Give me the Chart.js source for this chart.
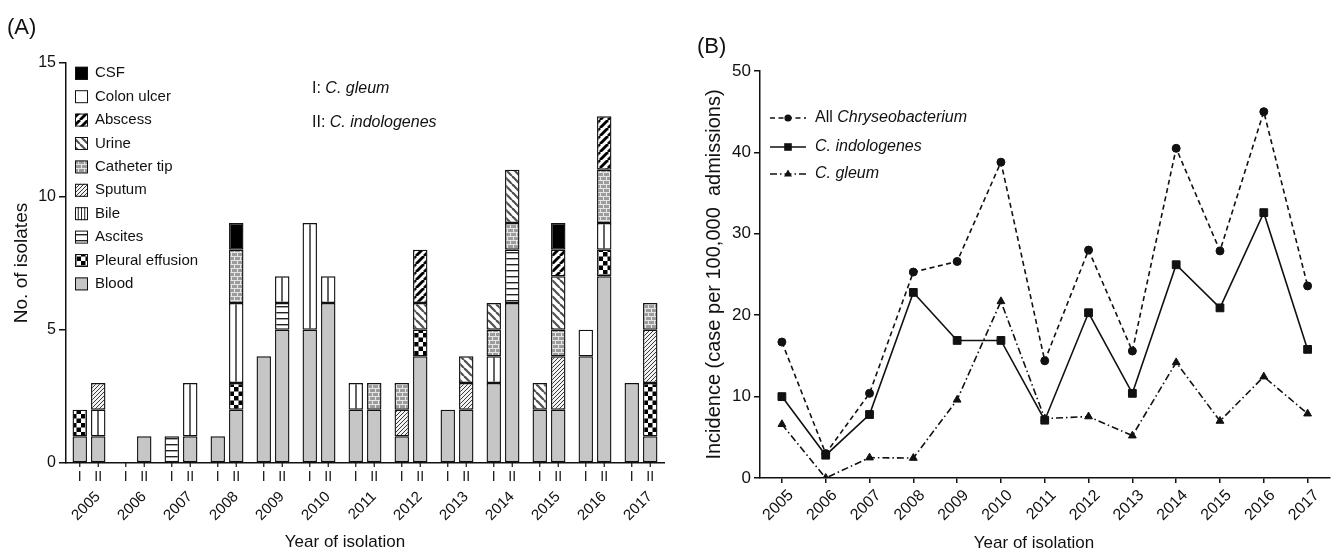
<!DOCTYPE html>
<html>
<head>
<meta charset="utf-8">
<script src="https://cdn.jsdelivr.net/npm/chart.js@4.4.1/dist/chart.umd.min.js"></script>
<style>
    html, body { margin: 0; padding: 0; background: #fff; }
    #wrap { position: relative; width: 1336px; height: 553px; overflow: hidden; }
    #leftBox { position: absolute; left: 0; top: 0; width: 680px; height: 553px; }
    #rightBox { position: absolute; left: 680px; top: 0; width: 656px; height: 553px; }
</style>
</head>
<body>
<div id="wrap">
    <div id="leftBox"><canvas id="isolatesChart" width="680" height="553"></canvas></div>
    <div id="rightBox"><canvas id="incidenceChart" width="656" height="553"></canvas></div>
</div>
<script>
const years = ['2005', '2006', '2007', '2008', '2009', '2010', '2011', '2012', '2013', '2014', '2015', '2016', '2017'];
const speciesMarks = ['I', 'II'];
const sources = ['Blood', 'Pleural effusion', 'Ascites', 'Bile', 'Sputum', 'Catheter tip', 'Urine', 'Abscess', 'Colon ulcer', 'CSF'];
const isolateTicks = [0, 5, 10, 15];
const incidenceTicks = [0, 10, 20, 30, 40, 50];

// (A) C. gleum isolates per year, by specimen
const gleumBlood    = [1, 0, 0, 1, 4, 5, 2, 1, 2, 3, 2, 4, 3];
const gleumPleural  = [1, 0, 0, 0, 0, 0, 0, 0, 0, 0, 0, 0, 0];
const gleumAscites  = [0, 0, 1, 0, 0, 0, 0, 0, 0, 0, 0, 0, 0];
const gleumBile     = [0, 0, 0, 0, 0, 4, 1, 0, 0, 1, 0, 0, 0];
const gleumSputum   = [0, 0, 0, 0, 0, 0, 0, 1, 0, 0, 0, 0, 0];
const gleumCatheter = [0, 0, 0, 0, 0, 0, 0, 1, 0, 1, 0, 0, 0];
const gleumUrine    = [0, 0, 0, 0, 0, 0, 0, 0, 0, 1, 1, 0, 0];
const gleumAbscess  = [0, 0, 0, 0, 0, 0, 0, 0, 0, 0, 0, 0, 0];
const gleumColon    = [0, 0, 0, 0, 0, 0, 0, 0, 0, 0, 0, 1, 0];
const gleumCSF      = [0, 0, 0, 0, 0, 0, 0, 0, 0, 0, 0, 0, 0];

// (A) C. indologenes isolates per year, by specimen
const indolBlood    = [1, 1, 1, 2, 5, 6, 2, 4, 2, 6, 2, 7, 1];
const indolPleural  = [0, 0, 0, 1, 0, 0, 0, 1, 0, 0, 0, 1, 2];
const indolAscites  = [0, 0, 0, 0, 1, 0, 0, 0, 0, 2, 0, 0, 0];
const indolBile     = [1, 0, 2, 3, 1, 1, 0, 0, 0, 0, 0, 1, 0];
const indolSputum   = [1, 0, 0, 0, 0, 0, 0, 0, 1, 0, 2, 0, 2];
const indolCatheter = [0, 0, 0, 2, 0, 0, 1, 0, 0, 1, 1, 2, 1];
const indolUrine    = [0, 0, 0, 0, 0, 0, 0, 1, 1, 2, 2, 0, 0];
const indolAbscess  = [0, 0, 0, 0, 0, 0, 0, 2, 0, 0, 1, 2, 0];
const indolColon    = [0, 0, 0, 0, 0, 0, 0, 0, 0, 0, 0, 0, 0];
const indolCSF      = [0, 0, 0, 1, 0, 0, 0, 0, 0, 0, 1, 0, 0];

// (B) incidence per 100,000 admissions
const allChryseo  = [16.7, 3.0, 10.4, 25.3, 26.6, 38.8, 14.4, 28.0, 15.6, 40.5, 27.9, 45.0, 23.6];
const indologenes = [10.0, 2.8, 7.8, 22.8, 16.9, 16.9, 7.1, 20.3, 10.4, 26.2, 20.9, 32.6, 15.8];
const gleum       = [6.6, 0.0, 2.5, 2.45, 9.6, 21.7, 7.3, 7.55, 5.2, 14.2, 7.0, 12.45, 7.9];

const INK = '#111';
const FONT = '"Liberation Sans", Arial, Helvetica, sans-serif';
const CAT_PCT = 0.804;
const BAR_PCT = 0.78;

Chart.defaults.font.family = FONT;
Chart.defaults.color = INK;

// --- fill patterns ---
function makeTile(w, h, draw) {
    const c = document.createElement('canvas');
    c.width = w;
    c.height = h;
    draw(c.getContext('2d'), w, h);
    return c;
}

function stripes(size, dir, width, color, bg) {
    return makeTile(size, size, (g, s) => {
        g.fillStyle = bg;
        g.fillRect(0, 0, s, s);
        g.strokeStyle = color;
        g.lineWidth = width;
        [-s, 0, s].forEach(k => {
            g.beginPath();
            if (dir === '/') { g.moveTo(k, s); g.lineTo(k + s, 0); }
            else { g.moveTo(k, 0); g.lineTo(k + s, s); }
            g.stroke();
        });
    });
}

const checkerTile = makeTile(9, 9, (g) => {
    g.fillStyle = '#fff'; g.fillRect(0, 0, 9, 9);
    g.fillStyle = '#000'; g.fillRect(0, 0, 4.5, 4.5); g.fillRect(4.5, 4.5, 4.5, 4.5);
});
const ascitesTile = makeTile(8, 6, (g) => {
    g.fillStyle = '#fff'; g.fillRect(0, 0, 8, 6);
    g.fillStyle = '#222'; g.fillRect(0, 0, 8, 1.4);
});
const bileTile = makeTile(60, 4, (g) => {
    g.fillStyle = '#fff'; g.fillRect(0, 0, 60, 4);
    g.fillStyle = '#222'; g.fillRect(29.3, 0, 1.4, 4);
});
const brickTile = makeTile(12, 8, (g) => {
    g.fillStyle = '#9c9c9c'; g.fillRect(0, 0, 12, 8);
    g.fillStyle = '#e6e6e6';
    g.fillRect(0, 0, 12, 1); g.fillRect(0, 4, 12, 1);
    g.fillRect(0, 0, 1, 4); g.fillRect(6, 0, 1, 4);
    g.fillRect(3, 4, 1, 4); g.fillRect(9, 4, 1, 4);
});
const sputumTile = stripes(4, '/', 1, '#3a3a3a', '#f2f2f2');
const urineTile = stripes(8, '\\', 2.2, '#505050', '#fff');
const abscessTile = stripes(8, '/', 2.8, '#000', '#fff');

function buildFills(ctx) {
    return [
        '#c6c6c6',
        ctx.createPattern(checkerTile, 'repeat'),
        ctx.createPattern(ascitesTile, 'repeat'),
        '#fff',
        ctx.createPattern(sputumTile, 'repeat'),
        ctx.createPattern(brickTile, 'repeat'),
        ctx.createPattern(urineTile, 'repeat'),
        ctx.createPattern(abscessTile, 'repeat'),
        '#fff',
        '#000'
    ];
}

// centre of the I / II bar in year j, from the category scale
function barCenter(chart, j, s) {
    const xs = chart.scales.x;
    const step = xs.getPixelForValue(1) - xs.getPixelForValue(0);
    return xs.getPixelForValue(j) + (s === 0 ? -1 : 1) * step * CAT_PCT / 4;
}

function bileFill(c, s) {
    const chart = c.chart;
    if (!chart.scales || !chart.scales.x || c.dataIndex === undefined) return '#fff';
    const cx = barCenter(chart, c.dataIndex, s);
    const p = chart.ctx.createPattern(bileTile, 'repeat');
    p.setTransform(new DOMMatrix([1, 0, 0, 1, Math.round(cx) - 30, 0]));
    return p;
}

function drawMixed(ctx, parts, x, y, size) {
    let cx = x;
    parts.forEach(([text, italic]) => {
        ctx.font = `${italic ? 'italic ' : ''}${size}px ${FONT}`;
        ctx.fillText(text, cx, y);
        cx += ctx.measureText(text).width;
    });
}

// --- (A) stacked bars ---
const leftCanvas = document.getElementById('isolatesChart');
const fills = buildFills(leftCanvas.getContext('2d'));
const gleumSets = [gleumBlood, gleumPleural, gleumAscites, gleumBile, gleumSputum, gleumCatheter, gleumUrine, gleumAbscess, gleumColon, gleumCSF];
const indolSets = [indolBlood, indolPleural, indolAscites, indolBile, indolSputum, indolCatheter, indolUrine, indolAbscess, indolColon, indolCSF];

const barSets = [];
[gleumSets, indolSets].forEach((sets, s) => {
    sets.forEach((vals, k) => {
        barSets.push({
            label: sources[k] + ' ' + speciesMarks[s],
            data: vals.map(v => v || null),
            stack: speciesMarks[s],
            backgroundColor: sources[k] === 'Bile' ? (c) => bileFill(c, s) : fills[k],
            borderColor: INK,
            borderWidth: 1.4,
            borderSkipped: false,
            categoryPercentage: CAT_PCT,
            barPercentage: BAR_PCT
        });
    });
});

const isolatesDecor = {
    id: 'isolatesDecor',
    afterDraw(chart) {
        const ctx = chart.ctx;
        const bottom = chart.chartArea.bottom;
        ctx.save();
        ctx.strokeStyle = INK;
        ctx.fillStyle = INK;
        ctx.lineWidth = 1.2;
        ctx.font = `14px ${FONT}`;
        ctx.textAlign = 'center';
        ctx.textBaseline = 'middle';
        years.forEach((y, j) => {
            speciesMarks.forEach((mark, s) => {
                const cx = barCenter(chart, j, s);
                ctx.beginPath();
                ctx.moveTo(cx, bottom);
                ctx.lineTo(cx, bottom + 4);
                ctx.stroke();
                ctx.fillText(mark, cx, bottom + 14.5);
            });
        });

        // legend, CSF on top
        ctx.textAlign = 'left';
        ctx.font = `15px ${FONT}`;
        for (let i = 0; i < sources.length; i++) {
            const k = sources.length - 1 - i;
            const ry = 73.3 + i * 23.4;
            ctx.fillStyle = fills[k];
            ctx.fillRect(75, ry - 6.5, 13, 13);
            if (sources[k] === 'Bile') {
                ctx.fillStyle = '#222';
                [3.25, 6.5, 9.75].forEach(dx => ctx.fillRect(75 + dx - 0.5, ry - 6.5, 1, 13));
            }
            ctx.lineWidth = 1;
            ctx.strokeStyle = INK;
            ctx.strokeRect(75.5, ry - 6, 12, 12);
            ctx.fillStyle = INK;
            ctx.fillText(sources[k], 95, ry);
        }

        drawMixed(ctx, [['I: ', false], ['C. gleum', true]], 312, 89, 16);
        drawMixed(ctx, [['II: ', false], ['C. indologenes', true]], 312, 123, 16);

        ctx.font = `22px ${FONT}`;
        ctx.fillText('(A)', 7, 28);

        ctx.textAlign = 'center';
        ctx.font = `17px ${FONT}`;
        ctx.fillText('Year of isolation', 345, 542);
        ctx.restore();
    }
};

new Chart(leftCanvas, {
    type: 'bar',
    data: { labels: years, datasets: barSets },
    options: {
        responsive: false,
        animation: false,
        events: [],
        layout: { padding: { left: 0, right: 16, top: 63, bottom: 0 } },
        plugins: { legend: { display: false }, tooltip: { enabled: false } },
        scales: {
            x: {
                stacked: true,
                grid: { display: false, drawTicks: false },
                border: { display: true, color: INK, width: 1.5 },
                ticks: { autoSkip: false, minRotation: 45, maxRotation: 45, font: { size: 15 }, color: INK, padding: 25, labelOffset: 9 },
                afterFit: s => { s.height = 90; s.paddingLeft = 0; s.paddingRight = 0; }
            },
            y: {
                stacked: true,
                min: 0,
                max: 15,
                afterBuildTicks: s => { s.ticks = isolateTicks.map(v => ({ value: v })); },
                ticks: { font: { size: 16 }, color: INK, padding: 3 },
                grid: { display: true, drawOnChartArea: false, drawTicks: true, tickLength: 7, color: INK, lineWidth: 1.5 },
                border: { display: true, color: INK, width: 1.5 },
                title: { display: true, text: 'No. of isolates', font: { size: 19 }, color: INK, padding: { top: 10, bottom: 0 } },
                afterFit: s => { s.width = 66; s.paddingTop = 0; s.paddingBottom = 0; }
            }
        }
    },
    plugins: [isolatesDecor]
});

// --- (B) incidence lines ---
const lineStyles = [
    { label: [['All ', false], ['Chryseobacterium', true]], data: allChryseo, dash: [5, 3.5], point: 'circle', radius: 4 },
    { label: [['C. indologenes', true]], data: indologenes, dash: [], point: 'rect', radius: 5.5 },
    { label: [['C. gleum', true]], data: gleum, dash: [7, 3, 1.5, 3], point: 'triangle', radius: 4.5 }
];

function drawMarker(ctx, kind, x, y) {
    ctx.beginPath();
    if (kind === 'circle') ctx.arc(x, y, 3.6, 0, Math.PI * 2);
    else if (kind === 'rect') ctx.rect(x - 3.8, y - 3.8, 7.6, 7.6);
    else { ctx.moveTo(x, y - 4.5); ctx.lineTo(x + 4, y + 2.6); ctx.lineTo(x - 4, y + 2.6); ctx.closePath(); }
    ctx.fill();
}

const incidenceDecor = {
    id: 'incidenceDecor',
    afterDraw(chart) {
        const ctx = chart.ctx;
        ctx.save();
        ctx.strokeStyle = INK;
        ctx.fillStyle = INK;
        ctx.textBaseline = 'middle';
        ctx.textAlign = 'left';
        const rows = [118, 147, 174];
        lineStyles.forEach((st, i) => {
            ctx.lineWidth = 1.6;
            ctx.setLineDash(st.dash);
            ctx.beginPath();
            ctx.moveTo(90, rows[i]);
            ctx.lineTo(126, rows[i]);
            ctx.stroke();
            ctx.setLineDash([]);
            drawMarker(ctx, st.point, 108, rows[i]);
            drawMixed(ctx, st.label, 135, rows[i], 16);
        });

        ctx.font = `22px ${FONT}`;
        ctx.fillText('(B)', 17, 47);

        ctx.textAlign = 'center';
        ctx.font = `17px ${FONT}`;
        ctx.fillText('Year of isolation', 354, 543);
        ctx.restore();
    }
};

new Chart(document.getElementById('incidenceChart'), {
    type: 'line',
    data: {
        labels: years,
        datasets: lineStyles.map(st => ({
            label: st.label.map(p => p[0]).join(''),
            data: st.data,
            borderColor: INK,
            backgroundColor: INK,
            borderWidth: 1.6,
            borderDash: st.dash,
            pointStyle: st.point,
            pointRadius: st.radius,
            pointBorderWidth: 1,
            pointBackgroundColor: INK,
            pointBorderColor: INK,
            tension: 0
        }))
    },
    options: {
        responsive: false,
        animation: false,
        events: [],
        layout: { padding: { left: 0, right: 3, top: 71, bottom: 0 } },
        plugins: { legend: { display: false }, tooltip: { enabled: false } },
        scales: {
            x: {
                offset: true,
                grid: { display: true, offset: false, drawOnChartArea: false, drawTicks: true, tickLength: 5, color: INK, lineWidth: 1.5 },
                border: { display: true, color: INK, width: 1.5 },
                ticks: { autoSkip: false, minRotation: 45, maxRotation: 45, font: { size: 16 }, color: INK, padding: 3, labelOffset: 9 },
                afterFit: s => { s.height = 75; s.paddingLeft = 0; s.paddingRight = 0; }
            },
            y: {
                min: 0,
                max: 50,
                afterBuildTicks: s => { s.ticks = incidenceTicks.map(v => ({ value: v })); },
                ticks: { font: { size: 17 }, color: INK, padding: 3 },
                grid: { display: true, drawOnChartArea: false, drawTicks: true, tickLength: 6, color: INK, lineWidth: 1.5 },
                border: { display: true, color: INK, width: 1.5 },
                title: { display: true, text: 'Incidence (case per 100,000  admissions)', font: { size: 20 }, color: INK, padding: { top: 22, bottom: 0 } },
                afterFit: s => { s.width = 80; s.paddingTop = 0; s.paddingBottom = 0; }
            }
        }
    },
    plugins: [incidenceDecor]
});
</script>
</body>
</html>
